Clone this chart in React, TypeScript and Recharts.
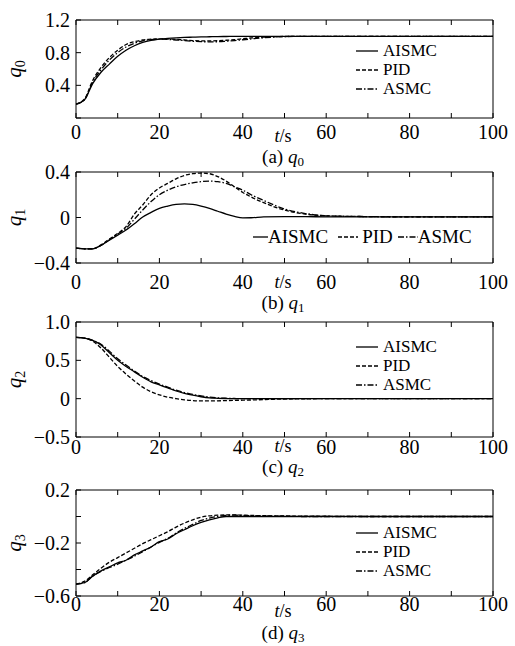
import React from 'react';
import { LineChart, Line, XAxis, YAxis, Legend } from 'recharts';

// time samples (s)
const time = [0, 2, 4, 6, 8, 10, 12, 14, 16, 18, 20, 22, 24, 26, 28, 30, 32, 34, 36, 38, 40, 42, 45, 50, 55, 60, 70, 80, 90, 100];

// (a) q0
const q0Aismc = [0.17, 0.22, 0.42, 0.56, 0.66, 0.755, 0.83, 0.885, 0.925, 0.95, 0.965, 0.975, 0.982, 0.987, 0.99, 0.993, 0.995, 0.997, 0.998, 0.999, 1, 1, 1, 1, 1, 1, 1, 1, 1, 1];
const q0Pid = [0.17, 0.23, 0.46, 0.62, 0.74, 0.83, 0.9, 0.935, 0.955, 0.965, 0.97, 0.968, 0.963, 0.955, 0.948, 0.945, 0.945, 0.947, 0.952, 0.96, 0.97, 0.98, 0.99, 0.998, 1, 1, 1, 1, 1, 1];
const q0Asmc = [0.17, 0.22, 0.44, 0.59, 0.71, 0.8, 0.87, 0.915, 0.945, 0.96, 0.965, 0.962, 0.955, 0.948, 0.94, 0.935, 0.933, 0.934, 0.94, 0.948, 0.958, 0.968, 0.982, 0.997, 1, 1, 1, 1, 1, 1];

// (b) q1
const q1Aismc = [-0.27, -0.275, -0.275, -0.245, -0.2, -0.155, -0.11, -0.055, 0.005, 0.045, 0.08, 0.1, 0.115, 0.12, 0.115, 0.1, 0.08, 0.055, 0.03, 0.01, -0.003, -0.002, 0.006, 0.008, 0.007, 0.006, 0.005, 0.005, 0.005, 0.005];
const q1Pid = [-0.27, -0.275, -0.275, -0.24, -0.19, -0.14, -0.08, 0.03, 0.11, 0.2, 0.26, 0.3, 0.34, 0.37, 0.385, 0.39, 0.385, 0.36, 0.32, 0.27, 0.22, 0.18, 0.13, 0.065, 0.03, 0.015, 0.008, 0.006, 0.005, 0.005];
const q1Asmc = [-0.27, -0.275, -0.275, -0.245, -0.195, -0.145, -0.095, -0.015, 0.066, 0.14, 0.2, 0.24, 0.27, 0.29, 0.305, 0.315, 0.32, 0.315, 0.3, 0.27, 0.24, 0.2, 0.15, 0.075, 0.035, 0.015, 0.008, 0.005, 0.005, 0.005];

// (c) q2
const q2Aismc = [0.8, 0.79, 0.76, 0.7, 0.6, 0.5, 0.42, 0.35, 0.28, 0.22, 0.18, 0.14, 0.1, 0.07, 0.045, 0.025, 0.01, 0.005, 0.002, 0, 0, 0, 0, 0, 0, 0, 0, 0, 0, 0];
const q2Pid = [0.8, 0.79, 0.75, 0.66, 0.54, 0.42, 0.32, 0.23, 0.15, 0.09, 0.05, 0.02, 0, -0.015, -0.025, -0.03, -0.03, -0.028, -0.025, -0.022, -0.02, -0.017, -0.012, -0.005, -0.002, 0, 0, 0, 0, 0];
const q2Asmc = [0.8, 0.79, 0.76, 0.71, 0.62, 0.52, 0.44, 0.36, 0.29, 0.235, 0.19, 0.15, 0.11, 0.08, 0.055, 0.035, 0.02, 0.01, 0.005, 0.002, 0, 0, 0, 0, 0, 0, 0, 0, 0, 0];

// (d) q3
const q3Aismc = [-0.51, -0.5, -0.45, -0.41, -0.38, -0.35, -0.33, -0.29, -0.26, -0.23, -0.19, -0.17, -0.13, -0.1, -0.07, -0.045, -0.025, -0.01, 0, 0, 0, 0, 0, 0, 0, 0, 0, 0, 0, 0];
const q3Pid = [-0.51, -0.49, -0.44, -0.39, -0.345, -0.31, -0.275, -0.24, -0.205, -0.175, -0.145, -0.115, -0.08, -0.05, -0.025, -0.005, 0.005, 0.01, 0.012, 0.012, 0.01, 0.008, 0.006, 0.004, 0.003, 0.002, 0, 0, 0, 0];
const q3Asmc = [-0.51, -0.5, -0.45, -0.415, -0.385, -0.36, -0.33, -0.3, -0.265, -0.23, -0.195, -0.165, -0.125, -0.09, -0.06, -0.03, -0.012, 0, 0.008, 0.01, 0.008, 0.006, 0.004, 0.002, 0, 0, 0, 0, 0, 0];

const xTicks = [0, 10, 20, 30, 40, 50, 60, 70, 80, 90, 100];

const FONT = '"Liberation Serif", "DejaVu Serif", "Times New Roman", serif';

const SERIES = [
  { key: 'aismc', name: 'AISMC', dash: undefined as string | undefined },
  { key: 'pid', name: 'PID', dash: '4 2' },
  { key: 'asmc', name: 'ASMC', dash: '6 2 1.5 2' },
];

const rows = (a: number[], p: number[], s: number[]) =>
  time.map((t, i) => ({ t, aismc: a[i], pid: p[i], asmc: s[i] }));

const fmt = (v: number) => (v === 0 ? '0' : v < 0 ? '\u2212' + Math.abs(v).toFixed(1) : v.toFixed(1));

type Panel = {
  tag: string;
  sub: string;
  plotTop: number;
  plotH: number;
  domain: [number, number];
  yTicks: number[];
  yShown: number[];
  data: ReturnType<typeof rows>;
  legend: { horizontal?: boolean; left: number; top: number };
  xMargin: number;
  tsBase: number;
  capBase: number;
};

const PANELS: Panel[] = [
  {
    tag: 'a', sub: '0', plotTop: 20, plotH: 98, domain: [0, 1.2],
    yTicks: [0, 0.4, 0.8, 1.2], yShown: [0.4, 0.8, 1.2],
    data: rows(q0Aismc, q0Pid, q0Asmc),
    legend: { left: 356, top: 31 }, xMargin: 12, tsBase: 142, capBase: 163,
  },
  {
    tag: 'b', sub: '1', plotTop: 172, plotH: 91, domain: [-0.4, 0.4],
    yTicks: [-0.4, 0, 0.4], yShown: [-0.4, 0, 0.4],
    data: rows(q1Aismc, q1Pid, q1Asmc),
    legend: { horizontal: true, left: 253, top: 64 }, xMargin: 17, tsBase: 288, capBase: 309,
  },
  {
    tag: 'c', sub: '2', plotTop: 322, plotH: 115, domain: [-0.5, 1],
    yTicks: [-0.5, 0, 0.5, 1], yShown: [-0.5, 0, 0.5, 1],
    data: rows(q2Aismc, q2Pid, q2Asmc),
    legend: { left: 356, top: 25 }, xMargin: 8, tsBase: 452, capBase: 473,
  },
  {
    tag: 'd', sub: '3', plotTop: 490, plotH: 106, domain: [-0.6, 0.2],
    yTicks: [-0.6, -0.4, -0.2, 0, 0.2], yShown: [-0.6, -0.2, 0.2],
    data: rows(q3Aismc, q3Pid, q3Asmc),
    legend: { left: 356, top: 43 }, xMargin: 6, tsBase: 617, capBase: 639,
  },
];

function Sample({ w, dash }: { w: number; dash?: string }) {
  return (
    <svg width={w} height={10} style={{ display: 'block' }}>
      <line x1={0} y1={5} x2={w} y2={5} stroke="#000" strokeWidth={1.3} strokeDasharray={dash} />
    </svg>
  );
}

function VerticalLegend() {
  return (
    <div style={{ fontFamily: FONT, fontSize: 17, color: '#000', lineHeight: '19px' }}>
      {SERIES.map((s) => (
        <div key={s.key} style={{ display: 'flex', alignItems: 'center', height: 19 }}>
          <Sample w={22} dash={s.dash} />
          <span style={{ marginLeft: 5 }}>{s.name}</span>
        </div>
      ))}
    </div>
  );
}

function HorizontalLegend() {
  const layout = [
    { w: 15, before: 0, after: 0 },
    { w: 20, before: 10, after: 4 },
    { w: 20, before: 5, after: 0 },
  ];
  return (
    <div style={{ display: 'flex', alignItems: 'center', fontFamily: FONT, fontSize: 19, color: '#000', whiteSpace: 'nowrap' }}>
      {SERIES.map((s, i) => (
        <div key={s.key} style={{ display: 'flex', alignItems: 'center', marginLeft: layout[i].before }}>
          <Sample w={layout[i].w} dash={s.dash} />
          <span style={{ marginLeft: layout[i].after }}>{s.name}</span>
        </div>
      ))}
    </div>
  );
}

function PanelChart({ p }: { p: Panel }) {
  const padTop = 10;
  const padBottom = 50;
  const tickStyle = { fontSize: 20, fill: '#000', fontFamily: FONT };
  return (
    <div style={{ position: 'absolute', left: 0, top: p.plotTop - padTop }}>
      <LineChart
        width={515}
        height={p.plotH + padTop + padBottom}
        data={p.data}
        margin={{ top: padTop - 1, right: 21, bottom: padBottom - 1, left: 75 }}
      >
        <XAxis
          xAxisId="b"
          dataKey="t"
          type="number"
          domain={[0, 100]}
          ticks={xTicks}
          height={1}
          tickSize={-5}
          tickMargin={p.xMargin}
          interval={0}
          tickFormatter={(v: number) => (v % 20 === 0 ? String(v) : '')}
          tick={tickStyle}
          stroke="#000"
          allowDataOverflow
        />
        <XAxis
          xAxisId="top"
          orientation="top"
          dataKey="t"
          type="number"
          domain={[0, 100]}
          ticks={xTicks}
          height={1}
          tickSize={-5}
          interval={0}
          tickFormatter={() => ''}
          stroke="#000"
        />
        <YAxis
          yAxisId="l"
          type="number"
          domain={p.domain}
          ticks={p.yTicks}
          width={1}
          tickSize={-5}
          tickMargin={11}
          interval={0}
          tickFormatter={(v: number) => (p.yShown.some((s) => Math.abs(s - v) < 1e-6) ? fmt(v) : '')}
          tick={tickStyle}
          stroke="#000"
          allowDataOverflow
        />
        <YAxis
          yAxisId="r"
          orientation="right"
          type="number"
          domain={p.domain}
          ticks={p.yTicks}
          width={1}
          tickSize={-5}
          interval={0}
          tickFormatter={() => ''}
          stroke="#000"
        />
        {SERIES.map((s) => (
          <Line
            key={s.key}
            xAxisId="b"
            yAxisId="l"
            type="monotone"
            dataKey={s.key}
            name={s.name}
            stroke="#000"
            strokeWidth={1.3}
            strokeDasharray={s.dash}
            dot={false}
            isAnimationActive={false}
          />
        ))}
        <Legend
          layout={p.legend.horizontal ? 'horizontal' : 'vertical'}
          align="center"
          verticalAlign="middle"
          wrapperStyle={{ left: p.legend.left, top: p.legend.top, width: 'auto' }}
          content={() => (p.legend.horizontal ? <HorizontalLegend /> : <VerticalLegend />)}
        />
      </LineChart>
    </div>
  );
}

function Overlay() {
  return (
    <svg
      width={515}
      height={646}
      style={{ position: 'absolute', left: 0, top: 0, pointerEvents: 'none' }}
      fontFamily={FONT}
      fill="#000"
    >
      {PANELS.map((p) => {
        const cy = p.plotTop + p.plotH / 2;
        return (
          <g key={p.tag}>
            <text x={21} y={cy} fontSize={21} textAnchor="middle" transform={`rotate(-90 21 ${cy})`}>
              <tspan fontStyle="italic">q</tspan>
              <tspan fontSize={14} dy={4}>{p.sub}</tspan>
            </text>
            <text x={283} y={p.tsBase} fontSize={18} textAnchor="middle">
              <tspan fontStyle="italic">t</tspan>
              <tspan>/s</tspan>
            </text>
            <text x={283} y={p.capBase} fontSize={19} textAnchor="middle">
              <tspan>({p.tag}) </tspan>
              <tspan fontStyle="italic">q</tspan>
              <tspan fontSize={13} dy={3}>{p.sub}</tspan>
            </text>
          </g>
        );
      })}
    </svg>
  );
}

export default function App() {
  return (
    <div style={{ position: 'absolute', left: 0, top: 0, width: 515, height: 646, background: '#fff', fontFamily: FONT }}>
      {PANELS.map((p) => (
        <PanelChart key={p.tag} p={p} />
      ))}
      <Overlay />
    </div>
  );
}
